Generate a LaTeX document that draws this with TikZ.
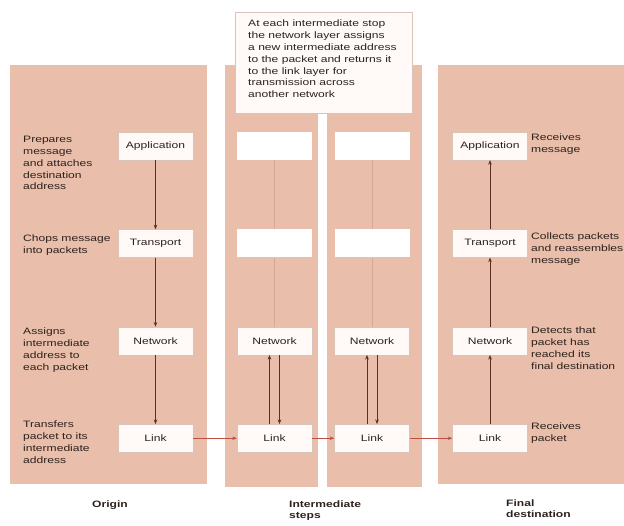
\documentclass[tikz,border=0pt]{standalone}
\usepackage{fontspec}
\setmainfont{Liberation Sans}[FakeStretch=1.3]
\usetikzlibrary{positioning}
\usetikzlibrary{arrows.meta}

\definecolor{panel}{RGB}{233,190,170}
\definecolor{boxfill}{RGB}{255,250,247}
\definecolor{boxline}{RGB}{218,196,186}
\definecolor{stack}{RGB}{92,46,38}
\definecolor{hopline}{RGB}{190,78,68}
\definecolor{ghost}{RGB}{214,168,150}
\definecolor{ink}{RGB}{45,34,30}

\begin{document}
\begin{tikzpicture}[x=1pt, y=-1pt, font=\fontsize{9.3}{11.8}\selectfont, text=ink,
  layer/.style={draw=boxline, fill=boxfill, minimum width=75pt, minimum height=28pt, inner sep=0pt},
  blank/.style={fill=white, minimum width=75pt, minimum height=28pt, inner sep=0pt},
  side/.style={align=left, inner sep=0pt, anchor=north west},
  caption/.style={align=left, inner sep=0pt, anchor=north west, font=\fontsize{9.3}{11}\selectfont\bfseries},
  flow/.style={draw=stack, line width=0.5pt, -{Stealth[length=4.5pt, width=3.5pt]}},
  hop/.style={draw=hopline, line width=0.5pt, -{Stealth[length=4.5pt, width=3.5pt]}},
  guide/.style={draw=ghost, line width=0.6pt},
  node distance=69pt]

  \useasboundingbox (0,0) rectangle (624,525);

  % backgrounds of the four stations
  \fill[panel] (10,65) rectangle (207,484);
  \fill[panel] (225,65) rectangle (318,487);
  \fill[panel] (327,65) rectangle (422,487);
  \fill[panel] (438,65) rectangle (624,484);

  % origin
  \node[layer] (app1) at (155.5,146) {Application};
  \node[layer, below=of app1] (trans1) {Transport};
  \node[layer, below=of trans1] (net1) {Network};
  \node[layer, below=of net1] (link1) {Link};

  % intermediate stops
  \node[blank] (top2) at (274.5,146) {};
  \node[blank, below=of top2] (mid2) {};
  \node[layer, below=of mid2] (net2) {Network};
  \node[layer, below=of net2] (link2) {Link};

  \node[blank] (top3) at (372,146) {};
  \node[blank, below=of top3] (mid3) {};
  \node[layer, below=of mid3] (net3) {Network};
  \node[layer, below=of net3] (link3) {Link};

  % final destination
  \node[layer] (app4) at (490,146) {Application};
  \node[layer, below=of app4] (trans4) {Transport};
  \node[layer, below=of trans4] (net4) {Network};
  \node[layer, below=of net4] (link4) {Link};

  \draw[guide] (top2) -- (mid2);
  \draw[guide] (mid2) -- (net2);
  \draw[guide] (top3) -- (mid3);
  \draw[guide] (mid3) -- (net3);

  \draw[flow] (app1) -- (trans1);
  \draw[flow] (trans1) -- (net1);
  \draw[flow] (net1) -- (link1);

  \draw[flow] ([xshift=-5pt]link2.north) -- ([xshift=-5pt]net2.south);
  \draw[flow] ([xshift=5pt]net2.south) -- ([xshift=5pt]link2.north);
  \draw[flow] ([xshift=-5pt]link3.north) -- ([xshift=-5pt]net3.south);
  \draw[flow] ([xshift=5pt]net3.south) -- ([xshift=5pt]link3.north);

  \draw[flow] (link4) -- (net4);
  \draw[flow] (net4) -- (trans4);
  \draw[flow] (trans4) -- (app4);

  \draw[hop] (link1) -- (link2);
  \draw[hop] (link2) -- (link3);
  \draw[hop] (link3) -- (link4);

  % note over the intermediate stops
  \node[draw=boxline, fill=boxfill, minimum width=177pt, minimum height=101pt, inner sep=0pt] (memo) at (323.5,62.5) {};
  \node[side] (memotext) at (248,20) {At each intermediate stop\\the network layer assigns\\a new intermediate address\\to the packet and returns it\\to the link layer for\\transmission across\\another network};

  % what happens at origin
  \node[side] (prepares) at (23,136) {Prepares\\message\\and attaches\\destination\\address};
  \node[side] (chops) at (23,235) {Chops message\\into packets};
  \node[side] (assigns) at (23,328) {Assigns\\intermediate\\address to\\each packet};
  \node[side] (transfers) at (23,421) {Transfers\\packet to its\\intermediate\\address};

  % what happens at destination
  \node[side] (receives) at (531,134) {Receives\\message};
  \node[side] (collects) at (531,233) {Collects packets\\and reassembles\\message};
  \node[side] (detects) at (531,327) {Detects that\\packet has\\reached its\\final destination};
  \node[side] (gets) at (531,423) {Receives\\packet};

  \node[caption] (origin) at (92,501) {Origin};
  \node[caption] (steps) at (289,501) {Intermediate\\steps};
  \node[caption] (final) at (506,500) {Final\\destination};
\end{tikzpicture}
\end{document}
